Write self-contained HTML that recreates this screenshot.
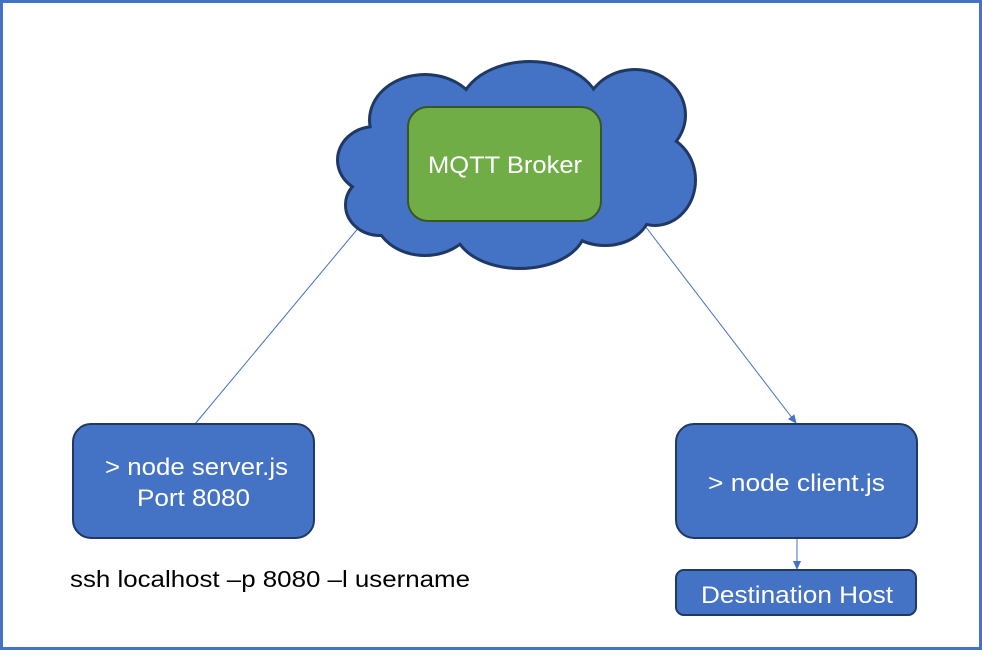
<!DOCTYPE html>
<html><head><style>html,body{margin:0;padding:0;background:#fff}</style></head>
<body>
<svg width="982" height="650" viewBox="0 0 982 650" xmlns="http://www.w3.org/2000/svg" font-family="'Liberation Sans', sans-serif">
<rect x="1.5" y="1.5" width="979" height="647" fill="#fff" stroke="#4472c4" stroke-width="3"/>
<defs><marker id="a" markerWidth="10" markerHeight="10" refX="8" refY="5" orient="auto" markerUnits="userSpaceOnUse"><path d="M0,1 L9,5 L0,9 z" fill="#4472c4"/></marker></defs>
<line x1="360" y1="226" x2="195" y2="424" stroke="#4472c4" stroke-width="1"/>
<line x1="642" y1="222" x2="796" y2="423" stroke="#4472c4" stroke-width="1" marker-end="url(#a)"/>
<line x1="797" y1="538" x2="797" y2="569" stroke="#4472c4" stroke-width="1" marker-end="url(#a)"/>
<g id="c">
<ellipse cx="375" cy="160" rx="37" ry="33"/>
<ellipse cx="380" cy="205" rx="34" ry="30"/>
<ellipse cx="425" cy="215" rx="50" ry="40"/>
<ellipse cx="520" cy="228" rx="65" ry="40"/>
<ellipse cx="605" cy="210" rx="45" ry="35"/>
<ellipse cx="655" cy="180" rx="40" ry="45"/>
<ellipse cx="635" cy="115" rx="50" ry="45"/>
<ellipse cx="530" cy="110" rx="70" ry="48"/>
<ellipse cx="425" cy="120" rx="55" ry="45"/>
</g>
<use href="#c" stroke="#1f3864" stroke-width="4" fill="#4472c4"/>
<g fill="#4472c4">
<ellipse cx="375" cy="160" rx="36" ry="32"/>
<ellipse cx="380" cy="205" rx="33" ry="29"/>
<ellipse cx="425" cy="215" rx="49" ry="39"/>
<ellipse cx="520" cy="228" rx="64" ry="39"/>
<ellipse cx="605" cy="210" rx="44" ry="34"/>
<ellipse cx="655" cy="180" rx="39" ry="44"/>
<ellipse cx="635" cy="115" rx="49" ry="44"/>
<ellipse cx="530" cy="110" rx="69" ry="47"/>
<ellipse cx="425" cy="120" rx="54" ry="44"/>
<ellipse cx="515" cy="165" rx="140" ry="60"/>
</g>
<rect x="408" y="107" width="193" height="114" rx="20" fill="#70ad47" stroke="#385723" stroke-width="2"/>
<text x="428" y="173" font-size="24" fill="#fff" textLength="154" lengthAdjust="spacingAndGlyphs">MQTT Broker</text>
<rect x="73" y="424" width="241" height="114" rx="18" fill="#4472c4" stroke="#1f3864" stroke-width="2"/>
<text x="105" y="475" font-size="24" fill="#fff" textLength="183" lengthAdjust="spacingAndGlyphs">&gt; node server.js</text>
<text x="137" y="506" font-size="24" fill="#fff" textLength="113" lengthAdjust="spacingAndGlyphs">Port 8080</text>
<rect x="676" y="424" width="241" height="114" rx="18" fill="#4472c4" stroke="#1f3864" stroke-width="2"/>
<text x="708" y="491" font-size="24" fill="#fff" textLength="177" lengthAdjust="spacingAndGlyphs">&gt; node client.js</text>
<rect x="676" y="570" width="240" height="45" rx="8" fill="#4472c4" stroke="#1f3864" stroke-width="2"/>
<text x="701" y="603" font-size="24" fill="#fff" textLength="192" lengthAdjust="spacingAndGlyphs">Destination Host</text>
<text x="70" y="587" font-size="23" fill="#000" textLength="400" lengthAdjust="spacingAndGlyphs">ssh localhost –p 8080 –l username</text>
</svg>
</body></html>
